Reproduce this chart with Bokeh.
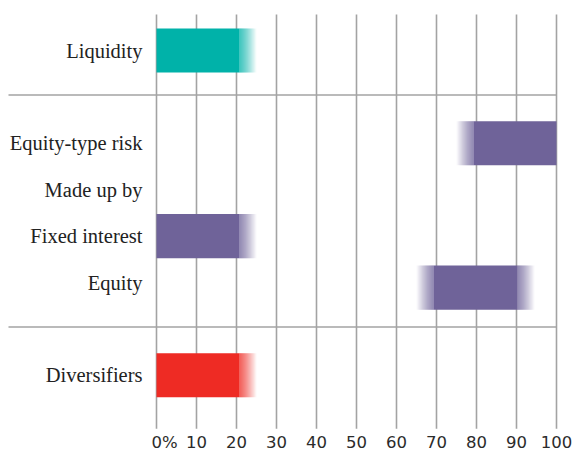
import numpy as np
from bokeh.plotting import figure
from bokeh.models import ColumnDataSource, Range1d
from bokeh.embed import file_html
from bokeh.resources import INLINE
from bokeh.core.properties import value

# ---------------- data ----------------
categories = ["Liquidity", "Equity-type risk", "Made up by", "Fixed interest", "Equity", "Diversifiers"]
rows = [0, 2, 3, 4, 5, 7]                      # row slots (gaps separate the groups)
bar_categories = ["Liquidity", "Equity-type risk", "Fixed interest", "Equity", "Diversifiers"]
bar_low = [0, 75, 0, 65, 0]
bar_high = [25, 100, 25, 94.5, 25]
bar_colors = ["#00b2a9", "#6f6399", "#6f6399", "#6f6399", "#ee2b24"]
x_ticks = [0, 10, 20, 30, 40, 50, 60, 70, 80, 90, 100]
tick_labels = ["0%", "10", "20", "30", "40", "50", "60", "70", "80", "90", "100"]
group_ends = ["Liquidity", "Equity"]           # a rule is drawn under these rows

# ---------------- style ----------------
W, H = 573, 452
PX_X = 4.0            # px per unit
X0_PX = 156           # px position of value 0
PX_ROW = 46.4         # px per row
ROW0_PX = 50          # px of first row
FADE = 4.25           # fade length (17 px)
NSL = 17              # one slice per pixel -> no seams
BAR_H = 0.95
BAR_NUDGE = {"Equity": 0.11}
GRID = "#a3a3a3"
TXT = "#222222"

x_start = -X0_PX / PX_X
x_end = (W - X0_PX) / PX_X
y_top = -ROW0_PX / PX_ROW
y_bot = (H - ROW0_PX) / PX_ROW

p = figure(width=W, height=H, output_backend="svg", toolbar_location=None,
           x_range=Range1d(x_start, x_end), y_range=Range1d(y_bot, y_top),
           x_axis_location=None, y_axis_location=None, min_border=0,
           outline_line_color=None, background_fill_color="white", border_fill_color="white")
p.xgrid.visible = False
p.ygrid.visible = False

row_of = dict(zip(categories, rows))

# vertical grid lines
grid_top = y_top + 14 / PX_ROW
grid_bot = row_of["Diversifiers"] + 1.15
p.segment(x0=x_ticks, x1=x_ticks, y0=[grid_top] * len(x_ticks), y1=[grid_bot] * len(x_ticks),
          line_color=GRID, line_width=1.6)

# group separators
sep_y = []
for c in group_ends:
    i = categories.index(c)
    sep_y.append((rows[i] + rows[i + 1]) / 2 - 0.04)
sep_x0 = x_start + 8 / PX_X
p.segment(x0=[sep_x0] * len(sep_y), x1=[x_ticks[-1]] * len(sep_y), y0=sep_y, y1=sep_y,
          line_color=GRID, line_width=1.6)

# bars: solid core + pixel-wide slices of decreasing opacity for the faded ends
L, R, T, B, C, A = [], [], [], [], [], []
step = FADE / NSL
for cat, lo, hi, col in zip(bar_categories, bar_low, bar_high, bar_colors):
    yc = row_of[cat] + BAR_NUDGE.get(cat, 0)
    top, bot = yc - BAR_H / 2, yc + BAR_H / 2
    fl = lo > x_ticks[0]
    fr = hi < x_ticks[-1]
    sl = lo + FADE if fl else lo
    sr = hi - FADE if fr else hi
    L.append(sl); R.append(sr); T.append(top); B.append(bot); C.append(col); A.append(1.0)
    for k in range(NSL):
        a = 1 - (k + 0.5) / NSL
        if fr:
            L.append(sr + k * step); R.append(sr + (k + 1) * step)
            T.append(top); B.append(bot); C.append(col); A.append(a)
        if fl:
            L.append(sl - (k + 1) * step); R.append(sl - k * step)
            T.append(top); B.append(bot); C.append(col); A.append(a)
src = ColumnDataSource(dict(left=L, right=R, top=T, bottom=B, color=C, alpha=A))
p.quad(left="left", right="right", top="top", bottom="bottom", fill_color="color",
       fill_alpha="alpha", line_color=None, source=src)

# category labels
p.text(x=[0] * len(categories), y=rows, text=categories, x_offset=-14,
       text_align="right", text_baseline="middle",
       text_font=value("Liberation Serif"), text_font_size="20.5px", text_color=TXT)

# tick labels
aligns = ["left" if t.endswith("%") else "center" for t in tick_labels]
offs = [-5 if t.endswith("%") else 0 for t in tick_labels]
tsrc = ColumnDataSource(dict(x=x_ticks, y=[grid_bot + 0.29] * len(x_ticks), text=tick_labels,
                             align=aligns, off=offs))
p.text(x="x", y="y", text="text", text_align="align", x_offset="off", text_baseline="middle",
       text_font=value("DejaVu Sans"), text_font_size="16.5px", text_color="#2b2b2b", source=tsrc)

open("out.html", "w").write(file_html(p, INLINE))
